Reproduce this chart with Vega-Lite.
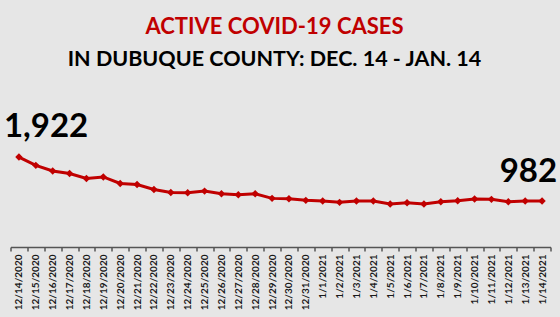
{
  "$schema": "https://vega.github.io/schema/vega-lite/v6.json",
  "width": 540,
  "height": 117,
  "autosize": "none",
  "padding": {"left": 10.5, "top": 130, "right": 9.5, "bottom": 70},
  "background": "#e6e6e6",
  "title": {
    "text": "ACTIVE COVID-19 CASES",
    "subtitle": "IN DUBUQUE COUNTY: DEC. 14 - JAN. 14",
    "anchor": "middle",
    "dx": -6,
    "offset": 40,
    "font": "Lato",
    "fontSize": 22,
    "fontWeight": "bold",
    "color": "#C00000",
    "subtitleFont": "Lato",
    "subtitleFontSize": 21.5,
    "subtitleFontWeight": "bold",
    "subtitleColor": "#000000",
    "subtitlePadding": 10
  },
  "config": {"view": {"stroke": null}},
  "data": {
    "values": [
      {"date": "12/14/2020", "cases": 1922},
      {"date": "12/15/2020", "cases": 1745},
      {"date": "12/16/2020", "cases": 1624},
      {"date": "12/17/2020", "cases": 1569},
      {"date": "12/18/2020", "cases": 1463},
      {"date": "12/19/2020", "cases": 1497},
      {"date": "12/20/2020", "cases": 1357},
      {"date": "12/21/2020", "cases": 1336},
      {"date": "12/22/2020", "cases": 1230},
      {"date": "12/23/2020", "cases": 1166},
      {"date": "12/24/2020", "cases": 1158},
      {"date": "12/25/2020", "cases": 1194},
      {"date": "12/26/2020", "cases": 1137},
      {"date": "12/27/2020", "cases": 1116},
      {"date": "12/28/2020", "cases": 1137},
      {"date": "12/29/2020", "cases": 1039},
      {"date": "12/30/2020", "cases": 1031},
      {"date": "12/31/2020", "cases": 997},
      {"date": "1/1/2021", "cases": 982},
      {"date": "1/2/2021", "cases": 954},
      {"date": "1/3/2021", "cases": 982},
      {"date": "1/4/2021", "cases": 982},
      {"date": "1/5/2021", "cases": 918},
      {"date": "1/6/2021", "cases": 946},
      {"date": "1/7/2021", "cases": 918},
      {"date": "1/8/2021", "cases": 967},
      {"date": "1/9/2021", "cases": 988},
      {"date": "1/10/2021", "cases": 1024},
      {"date": "1/11/2021", "cases": 1018},
      {"date": "1/12/2021", "cases": 967},
      {"date": "1/13/2021", "cases": 982},
      {"date": "1/14/2021", "cases": 982}
    ]
  },
  "encoding": {
    "x": {
      "field": "date",
      "type": "ordinal",
      "sort": null,
      "scale": {"type": "band", "paddingInner": 0, "paddingOuter": 0},
      "axis": {
        "title": null,
        "labelAngle": -90,
        "tickBand": "extent",
        "labelFont": "Lato",
        "labelFontWeight": "bold",
        "labelFontSize": 10,
        "labelColor": "#1a1a1a",
        "domainColor": "#555555",
        "domainWidth": 1.5,
        "tickColor": "#555555",
        "tickWidth": 1.5,
        "tickSize": 4,
        "labelPadding": 3,
        "grid": false
      }
    },
    "y": {
      "field": "cases",
      "type": "quantitative",
      "scale": {"domain": [0, 2500]},
      "axis": null
    }
  },
  "layer": [
    {
      "mark": {
        "type": "line",
        "color": "#C00000",
        "strokeWidth": 3,
        "point": {"shape": "diamond", "size": 55, "filled": true, "color": "#C00000"}
      }
    },
    {
      "transform": [{"filter": "datum.date == '12/14/2020'"}],
      "mark": {"type": "text", "font": "Lato", "fontSize": 33, "fontWeight": "bold", "color": "#000000", "align": "left", "baseline": "alphabetic", "dx": -15, "dy": -20},
      "encoding": {"text": {"field": "cases", "type": "quantitative", "format": ","}}
    },
    {
      "transform": [{"filter": "datum.date == '1/14/2021'"}],
      "mark": {"type": "text", "font": "Lato", "fontSize": 33, "fontWeight": "bold", "color": "#000000", "align": "right", "baseline": "alphabetic", "dx": 15, "dy": -19},
      "encoding": {"text": {"field": "cases", "type": "quantitative", "format": ","}}
    }
  ]
}
